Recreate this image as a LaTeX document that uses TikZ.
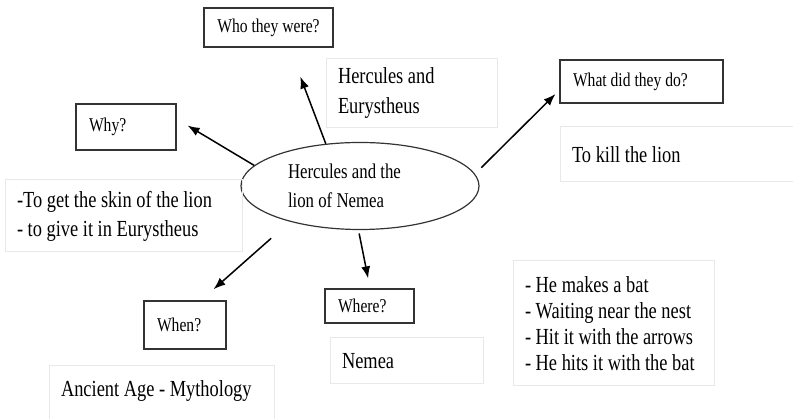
\documentclass[tikz,border=0pt]{standalone}
\usepackage{fontspec}
\setmainfont{Liberation Serif}[FakeStretch=0.8]
\usepackage{tikz}
\usetikzlibrary{arrows.meta}
\usetikzlibrary{shapes.geometric}
\tikzset{
	narrow/.style={execute at begin node={\spaceskip=.2em plus .1em minus .05em\xspaceskip=.25em\hyphenpenalty=10000\relax}},
	question/.style={narrow, draw=black!80, line width=1.2pt, align=left, inner xsep=13pt, inner ysep=0pt, font=\fontsize{19.5}{23}\selectfont},
	answer/.style={narrow, draw=black!9, line width=1pt, align=left, inner xsep=12pt, inner ysep=0pt, font=\fontsize{23}{29}\selectfont},
	topic/.style={narrow, ellipse, draw=black!80, line width=1.2pt, inner sep=0pt, align=left, font=\fontsize{21}{29}\selectfont},
	link/.style={->, line width=1.5pt},
}

\begin{document}
\begin{tikzpicture}[x=1pt, y=1pt, >={Latex[length=12pt,width=9pt]}]
	\useasboundingbox (0,0) rectangle (793,419);
	% centre
	\node[topic, minimum width=238pt, minimum height=87pt, text width=144pt] (hub) at (360,233) {Hercules and the\\lion of Nemea};
	% questions
	\node[question, align=center, minimum width=129pt, minimum height=39pt] (who) at (268.5,391.5) {Who they were?};
	\node[question, text width=74pt, minimum height=46pt] (why) at (126,292) {Why?};
	\node[question, text width=137pt, minimum height=43pt] (what) at (641.5,337.5) {What did they do?};
	\node[question, text width=56pt, minimum height=48pt] (when) at (185,94) {When?};
	\node[question, text width=63pt, minimum height=34pt] (where) at (369.5,113) {Where?};
	% answers
	\node[answer, text width=147pt, minimum height=69pt, font=\fontsize{23}{30}\selectfont] (hercules) at (411.5,325.5) {Hercules and\\Eurystheus};
	\node[answer, text width=216pt, minimum height=55pt] (kill) at (680,264.5) {To kill the lion};
	\node[answer, text width=213pt, minimum height=72pt] (reason) at (123.5,203) {-To get the skin of the lion\\- to give it in Eurystheus};
	\node[answer, text width=201pt, anchor=north, text height=31pt, text depth=30pt] (age) at (161.5,54) {Ancient Age - Mythology};
	\node[answer, text width=129pt, minimum height=46pt] (nemea) at (406.5,58) {Nemea};
	\node[answer, text width=177pt, minimum height=125pt, font=\fontsize{23}{26}\selectfont] (steps) at (613.5,95.5) {- He makes a bat\\- Waiting near the nest\\- Hit it with the arrows\\- He hits it with the bat};
	% arrows
	\draw[link, shorten >=31pt] (hub.129) -- (who.-44);
	\draw[link, shorten >=12.8pt] (hub.169) -- (why.9.8);
	\draw[link, shorten <=8.9pt, shorten >=5.5pt] (hub.6.4) -- (what.186.1);
	\draw[link, shorten <=25pt, shorten >=16.8pt] (hub.207.6) -- (when.57.5);
	\draw[link, shorten <=3.5pt, shorten >=10.2pt] (hub.268) -- (where.88);
\end{tikzpicture}
\end{document}
